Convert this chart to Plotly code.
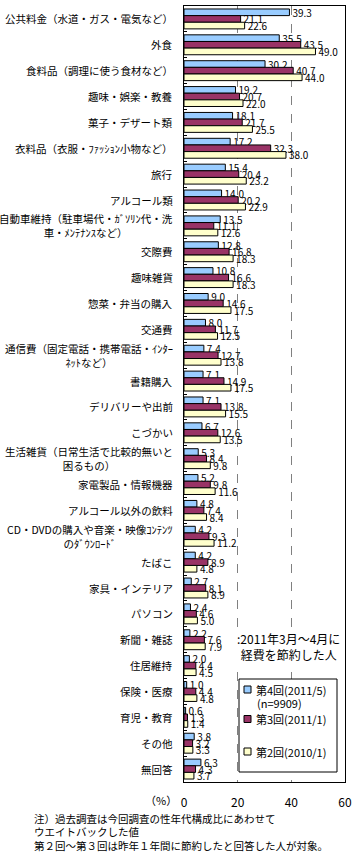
import plotly.graph_objects as go

categories = [
    "公共料金（水道・ガス・電気など）",
    "外食",
    "食料品（調理に使う食材など）",
    "趣味・娯楽・教養",
    "菓子・デザート類",
    "衣料品（衣服・ﾌｧｯｼｮﾝ小物など）",
    "旅行",
    "アルコール類",
    "自動車維持（駐車場代・ｶﾞｿﾘﾝ代・洗<br>車・ﾒﾝﾃﾅﾝｽなど）",
    "交際費",
    "趣味雑貨",
    "惣菜・弁当の購入",
    "交通費",
    "通信費（固定電話・携帯電話・ｲﾝﾀｰ<br>ﾈｯﾄなど）",
    "書籍購入",
    "デリバリーや出前",
    "こづかい",
    "生活雑貨（日常生活で比較的無いと<br>困るもの）",
    "家電製品・情報機器",
    "アルコール以外の飲料",
    "CD・DVDの購入や音楽・映像ｺﾝﾃﾝﾂ<br>のﾀﾞｳﾝﾛｰﾄﾞ",
    "たばこ",
    "家具・インテリア",
    "パソコン",
    "新聞・雑誌",
    "住居維持",
    "保険・医療",
    "育児・教育",
    "その他",
    "無回答",
]

round4_2011_5 = [39.3, 35.5, 30.2, 19.2, 18.1, 17.2, 15.4, 14.0, 13.5, 12.8,
                 10.8, 9.0, 8.0, 7.4, 7.1, 7.1, 6.7, 5.3, 5.2, 4.8,
                 4.2, 4.2, 2.7, 2.4, 2.2, 2.0, 1.0, 0.6, 3.8, 6.3]
round3_2011_1 = [21.1, 43.5, 40.7, 20.7, 21.7, 32.3, 20.4, 20.2, 11.1, 16.8,
                 16.6, 14.6, 11.7, 12.7, 14.9, 13.8, 12.6, 8.4, 9.8, 7.4,
                 9.3, 8.9, 8.1, 4.6, 7.6, 4.4, 4.4, 1.3, 3.2, 4.3]
round2_2010_1 = [22.6, 49.0, 44.0, 22.0, 25.5, 38.0, 23.2, 22.9, 12.6, 18.3,
                 18.3, 17.5, 12.5, 13.8, 17.5, 15.5, 13.5, 9.8, 11.6, 8.4,
                 11.2, 4.8, 8.9, 5.0, 7.9, 4.5, 4.8, 1.4, 3.3, 3.7]

series_names = ["第4回(2011/5)", "第3回(2011/1)", "第2回(2010/1)"]
n_label = "(n=9909)"
series_values = [round4_2011_5, round3_2011_1, round2_2010_1]
colors = ["#99CCFF", "#993366", "#FFFFCC"]

x_ticks = [0, 20, 40, 60]
unit_label = "（%）"
caption = ":2011年3月～4月に<br>経費を節約した人"
notes = [
    "注）過去調査は今回調査の性年代構成比にあわせて",
    "ウエイトバックした値",
    "第２回～第３回は昨年１年間に節約したと回答した人が対象。",
]

FONT = "Noto Sans CJK JP, sans-serif"
W_FIG, H_FIG = 358, 857
L, R, T, B = 184, 345, 6, 782
PW, PH = R - L, B - T


def px(x):
    return (x - L) / PW


def py(y):
    return (B - y) / PH


fig = go.Figure()
for name, vals, col in zip(series_names, series_values, colors):
    fig.add_trace(go.Bar(
        y=categories, x=vals, name=name, orientation="h",
        marker=dict(color=col, line=dict(color="black", width=1)),
        text=vals, texttemplate="%{x:.1f}", textposition="outside",
        constraintext="none", cliponaxis=False,
        textfont=dict(family=FONT, size=10, color="black"),
        showlegend=False,
    ))

annotations = []
for i, cat in enumerate(categories):
    annotations.append(dict(
        x=0, xref="paper", xshift=-9, y=i, yref="y", text=cat,
        xanchor="right", yanchor="middle", align="center", showarrow=False,
        font=dict(family=FONT, size=10.5, color="black"),
    ))

annotations.append(dict(
    x=px(161), xref="paper", y=py(800), yref="paper", text=unit_label,
    xanchor="center", yanchor="middle", showarrow=False,
    font=dict(family=FONT, size=11, color="black"),
))
annotations.append(dict(
    x=px(288.5), xref="paper", y=py(646), yref="paper", text=caption,
    xanchor="center", yanchor="middle", align="center", showarrow=False,
    bgcolor="white", borderpad=0,
    font=dict(family=FONT, size=12, color="black"),
))
for txt, yy in zip(notes, [818, 831.5, 845]):
    annotations.append(dict(
        x=px(32), xref="paper", y=py(yy), yref="paper", text=txt,
        xanchor="left", yanchor="middle", showarrow=False,
        font=dict(family=FONT, size=10.5, color="black"),
    ))

# legend (drawn manually to match the compact boxed legend)
shapes = [dict(type="rect", xref="paper", yref="paper",
               x0=px(239), x1=px(337), y0=py(772), y1=py(679),
               line=dict(color="black", width=1), fillcolor="white", layer="above")]
leg_y = [689.5, 719, 751.5]
for name, col, yy in zip(series_names, colors, leg_y):
    shapes.append(dict(type="rect", xref="paper", yref="paper",
                       x0=px(244), x1=px(251), y0=py(yy + 3.5), y1=py(yy - 3.5),
                       line=dict(color="black", width=1), fillcolor=col, layer="above"))
    annotations.append(dict(
        x=px(254), xref="paper", y=py(yy), yref="paper", text=name,
        xanchor="left", yanchor="middle", showarrow=False,
        font=dict(family=FONT, size=11, color="black"),
    ))
annotations.append(dict(
    x=px(255), xref="paper", y=py(702.5), yref="paper", text=n_label,
    xanchor="left", yanchor="middle", showarrow=False,
    font=dict(family=FONT, size=11, color="black"),
))

fig.update_layout(
    width=W_FIG, height=H_FIG, autosize=False,
    margin=dict(l=L, r=W_FIG - R, t=T, b=H_FIG - B, pad=0),
    paper_bgcolor="white", plot_bgcolor="white",
    barmode="group", bargap=0.23, bargroupgap=0,
    annotations=annotations, shapes=shapes,
    font=dict(family=FONT, size=11, color="black"),
    showlegend=False,
)
fig.update_xaxes(
    range=[0, 60], tickvals=x_ticks, ticktext=[str(v) for v in x_ticks],
    showgrid=True, gridcolor="#808080", griddash="dash", gridwidth=1,
    showline=True, linecolor="black", linewidth=1, mirror=True,
    zeroline=False, ticks="", ticklabelstandoff=10,
    tickfont=dict(family=FONT, size=12, color="black"),
    fixedrange=True,
)
fig.update_yaxes(
    type="category", categoryorder="array", categoryarray=categories,
    autorange="reversed", showticklabels=False,
    showline=True, linecolor="black", linewidth=1, mirror=True,
    showgrid=False, ticks="inside", tickson="boundaries", ticklen=3,
    tickcolor="black", fixedrange=True,
)

fig.write_html("out.html", config={"displayModeBar": False},
               post_script="document.body.style.margin='0';")
